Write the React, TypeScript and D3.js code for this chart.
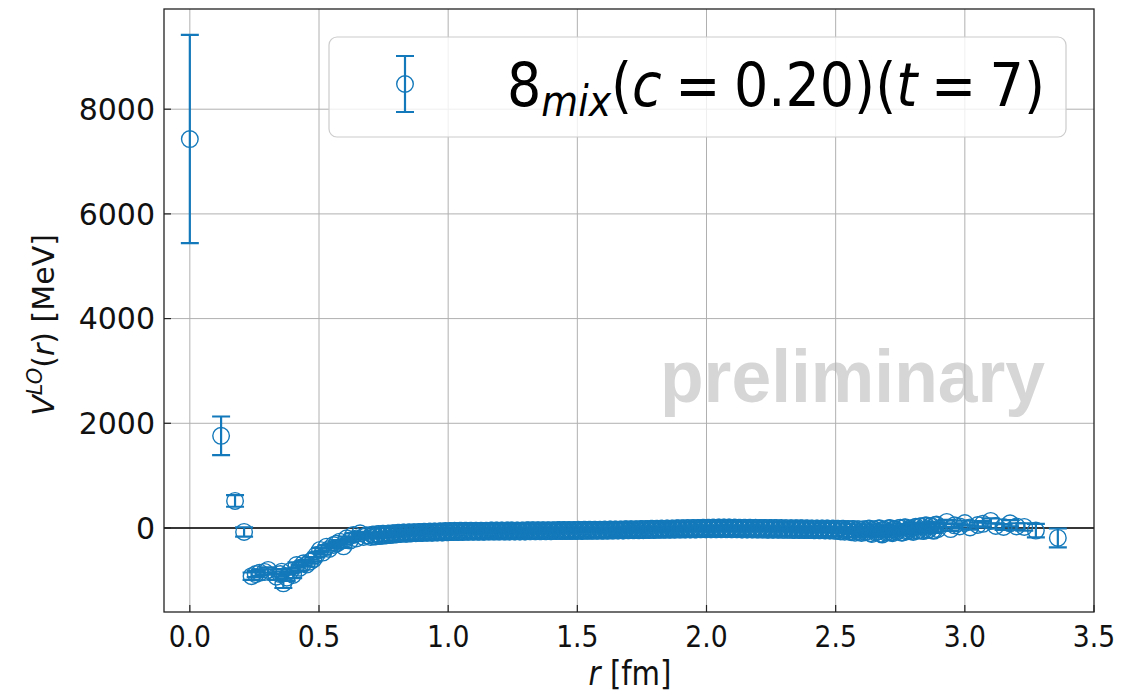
import React, { useEffect, useRef } from "react";
import * as d3 from "d3";

const W = 1123;
const H = 695;
const box = { left: 164, right: 1094, top: 9, bottom: 612 };
const blue = "#1479ba";

const xTicks = [0, 0.5, 1.0, 1.5, 2.0, 2.5, 3.0, 3.5];
const yTicks = [0, 2000, 4000, 6000, 8000];

// short distance points
const rNear = [0.000, 0.121, 0.175, 0.210, 0.239, 0.255, 0.271, 0.290, 0.303, 0.335, 0.350, 0.356, 0.362, 0.375,
  0.390, 0.400, 0.413, 0.425, 0.440, 0.452, 0.465, 0.478, 0.490, 0.504, 0.515, 0.529, 0.540, 0.556, 0.568,
  0.580, 0.595, 0.607, 0.620, 0.633, 0.645, 0.659, 0.672, 0.685];
const vNear = [7430, 1760, 516, -76, -920, -880, -853, -840, -802, -930, -880, -834, -1057, -950,
  -820, -898, -707, -760, -675, -700, -643, -600, -516, -420, -470, -357, -400, -325, -300,
  -262, -350, -197, -240, -134, -200, -101, -170, -140];
const eNear = [1990, 370, 110, 90, 70, 60, 60, 50, 50, 60, 50, 50, 90, 60,
  50, 60, 50, 50, 40, 40, 40, 40, 40, 40, 40, 30, 30, 30, 30,
  30, 30, 30, 30, 30, 25, 25, 25, 25];

// the dense band, first set
const rBand = [
  0.70, 0.71, 0.72, 0.73, 0.74, 0.75, 0.76, 0.77, 0.78, 0.79,
  0.80, 0.81, 0.82, 0.83, 0.84, 0.85, 0.86, 0.87, 0.88, 0.89,
  0.90, 0.91, 0.92, 0.93, 0.94, 0.95, 0.96, 0.97, 0.98, 0.99,
  1.00, 1.01, 1.02, 1.03, 1.04, 1.05, 1.06, 1.07, 1.08, 1.09,
  1.10, 1.11, 1.12, 1.13, 1.14, 1.15, 1.16, 1.17, 1.18, 1.19,
  1.20, 1.21, 1.22, 1.23, 1.24, 1.25, 1.26, 1.27, 1.28, 1.29,
  1.30, 1.31, 1.32, 1.33, 1.34, 1.35, 1.36, 1.37, 1.38, 1.39,
  1.40, 1.41, 1.42, 1.43, 1.44, 1.45, 1.46, 1.47, 1.48, 1.49,
  1.50, 1.51, 1.52, 1.53, 1.54, 1.55, 1.56, 1.57, 1.58, 1.59,
  1.60, 1.61, 1.62, 1.63, 1.64, 1.65, 1.66, 1.67, 1.68, 1.69,
  1.70, 1.71, 1.72, 1.73, 1.74, 1.75, 1.76, 1.77, 1.78, 1.79,
  1.80, 1.81, 1.82, 1.83, 1.84, 1.85, 1.86, 1.87, 1.88, 1.89,
  1.90, 1.91, 1.92, 1.93, 1.94, 1.95, 1.96, 1.97, 1.98, 1.99,
  2.00, 2.01, 2.02, 2.03, 2.04, 2.05, 2.06, 2.07, 2.08, 2.09,
  2.10, 2.11, 2.12, 2.13, 2.14, 2.15, 2.16, 2.17, 2.18, 2.19,
  2.20, 2.21, 2.22, 2.23, 2.24, 2.25, 2.26, 2.27, 2.28, 2.29,
  2.30, 2.31, 2.32, 2.33, 2.34, 2.35, 2.36, 2.37, 2.38, 2.39,
  2.40, 2.41, 2.42, 2.43, 2.44, 2.45, 2.46, 2.47, 2.48, 2.49,
  2.50, 2.51, 2.52, 2.53, 2.54, 2.55, 2.56, 2.57, 2.58, 2.59,
  2.60, 2.61, 2.62, 2.63, 2.64, 2.65, 2.66, 2.67, 2.68, 2.69,
  2.70, 2.71, 2.72, 2.73, 2.74, 2.75, 2.76, 2.77, 2.78, 2.79,
  2.80, 2.81, 2.82, 2.83, 2.84, 2.85, 2.86, 2.87, 2.88, 2.89,
];
const vBand = [
  -170, -125, -160, -115, -150, -110, -140, -105, -130, -100,
  -120, -90, -110, -85, -112, -82, -102, -80, -98, -76,
  -95, -72, -90, -68, -90, -66, -86, -64, -84, -60,
  -80, -58, -78, -56, -76, -55, -74, -54, -72, -53,
  -72, -52, -70, -52, -70, -51, -69, -50, -68, -50,
  -68, -49, -67, -48, -66, -48, -66, -47, -65, -46,
  -65, -45, -64, -44, -63, -44, -62, -43, -62, -42,
  -61, -41, -60, -40, -59, -40, -58, -39, -58, -38,
  -57, -37, -56, -36, -55, -35, -54, -34, -53, -33,
  -52, -32, -50, -30, -49, -29, -47, -27, -46, -26,
  -44, -24, -43, -22, -41, -21, -40, -19, -38, -17,
  -37, -15, -35, -13, -34, -11, -32, -9, -31, -7,
  -30, -5, -29, -3, -28, -1, -27, 1, -26, 3,
  -26, 5, -25, 6, -25, 7, -24, 8, -24, 8,
  -25, 7, -26, 6, -27, 5, -28, 4, -29, 3,
  -30, 2, -31, 1, -32, 0, -33, -1, -34, -2,
  -35, -3, -36, -4, -37, -5, -38, -6, -39, -7,
  -40, -8, -42, -9, -44, -10, -46, -11, -48, -12,
  -55, -14, -65, -16, -50, -18, -80, -20, -60, -22,
  -95, -25, -60, -10, -115, -30, -70, -5, -125, -35,
  -75, 0, -100, -25, -60, 5, -85, 15, -50, -15,
  -75, 25, -45, 35, -60, 50, -30, 40, -55, 65,
];
const eBand = [
  30, 28, 30, 26, 28, 25, 27, 24, 26, 24,
  24, 22, 24, 22, 23, 21, 22, 21, 22, 20,
  20, 20, 20, 19, 20, 19, 19, 18, 19, 18,
  18, 18, 18, 18, 18, 18, 18, 18, 18, 18,
  18, 18, 18, 18, 18, 18, 18, 18, 18, 18,
  18, 18, 18, 18, 18, 18, 18, 18, 18, 18,
  18, 18, 18, 18, 18, 18, 18, 18, 18, 18,
  18, 18, 18, 18, 18, 18, 18, 18, 18, 18,
  18, 18, 18, 18, 18, 18, 18, 18, 18, 18,
  18, 18, 18, 18, 18, 18, 18, 18, 18, 18,
  18, 18, 18, 18, 18, 18, 18, 18, 18, 18,
  18, 18, 18, 18, 18, 18, 18, 18, 18, 18,
  18, 18, 18, 18, 18, 18, 18, 18, 18, 18,
  18, 18, 18, 18, 18, 18, 18, 18, 18, 18,
  18, 18, 18, 18, 18, 18, 18, 18, 18, 18,
  20, 20, 20, 20, 20, 20, 20, 20, 20, 20,
  22, 22, 22, 22, 22, 22, 22, 22, 22, 22,
  24, 24, 24, 24, 24, 24, 24, 24, 24, 24,
  28, 26, 30, 26, 28, 26, 32, 26, 30, 28,
  35, 30, 32, 28, 38, 30, 34, 28, 40, 32,
  36, 30, 38, 32, 34, 30, 36, 32, 34, 32,
  38, 34, 36, 36, 38, 38, 36, 40, 40, 42,
];

// the dense band, second set (points in between)
const rBand2 = [
  0.705, 0.715, 0.725, 0.735, 0.745, 0.755, 0.765, 0.775, 0.785, 0.795,
  0.805, 0.815, 0.825, 0.835, 0.845, 0.855, 0.865, 0.875, 0.885, 0.895,
  0.905, 0.915, 0.925, 0.935, 0.945, 0.955, 0.965, 0.975, 0.985, 0.995,
  1.005, 1.015, 1.025, 1.035, 1.045, 1.055, 1.065, 1.075, 1.085, 1.095,
  1.105, 1.115, 1.125, 1.135, 1.145, 1.155, 1.165, 1.175, 1.185, 1.195,
  1.205, 1.215, 1.225, 1.235, 1.245, 1.255, 1.265, 1.275, 1.285, 1.295,
  1.305, 1.315, 1.325, 1.335, 1.345, 1.355, 1.365, 1.375, 1.385, 1.395,
  1.405, 1.415, 1.425, 1.435, 1.445, 1.455, 1.465, 1.475, 1.485, 1.495,
  1.505, 1.515, 1.525, 1.535, 1.545, 1.555, 1.565, 1.575, 1.585, 1.595,
  1.605, 1.615, 1.625, 1.635, 1.645, 1.655, 1.665, 1.675, 1.685, 1.695,
  1.705, 1.715, 1.725, 1.735, 1.745, 1.755, 1.765, 1.775, 1.785, 1.795,
  1.805, 1.815, 1.825, 1.835, 1.845, 1.855, 1.865, 1.875, 1.885, 1.895,
  1.905, 1.915, 1.925, 1.935, 1.945, 1.955, 1.965, 1.975, 1.985, 1.995,
  2.005, 2.015, 2.025, 2.035, 2.045, 2.055, 2.065, 2.075, 2.085, 2.095,
  2.105, 2.115, 2.125, 2.135, 2.145, 2.155, 2.165, 2.175, 2.185, 2.195,
  2.205, 2.215, 2.225, 2.235, 2.245, 2.255, 2.265, 2.275, 2.285, 2.295,
  2.305, 2.315, 2.325, 2.335, 2.345, 2.355, 2.365, 2.375, 2.385, 2.395,
  2.405, 2.415, 2.425, 2.435, 2.445, 2.455, 2.465, 2.475, 2.485, 2.495,
  2.505, 2.515, 2.525, 2.535, 2.545, 2.555, 2.565, 2.575, 2.585, 2.595,
  2.605, 2.615, 2.625, 2.635, 2.645, 2.655, 2.665, 2.675, 2.685, 2.695,
  2.705, 2.715, 2.725, 2.735, 2.745, 2.755, 2.765, 2.775, 2.785, 2.795,
  2.805, 2.815, 2.825, 2.835, 2.845, 2.855, 2.865, 2.875, 2.885, 2.895,
];
const vBand2 = [
  -128, -165, -118, -155, -112, -145, -108, -135, -102, -125,
  -92, -115, -88, -108, -84, -105, -82, -100, -78, -96,
  -74, -92, -70, -90, -67, -88, -65, -85, -62, -82,
  -57, -79, -55, -77, -55, -75, -54, -73, -53, -72,
  -52, -71, -51, -70, -51, -69, -50, -68, -49, -68,
  -48, -67, -48, -66, -47, -66, -47, -65, -46, -65,
  -45, -64, -44, -63, -43, -63, -42, -62, -42, -61,
  -41, -60, -40, -59, -39, -59, -38, -58, -38, -57,
  -36, -56, -35, -55, -34, -54, -33, -53, -33, -52,
  -31, -51, -29, -50, -28, -48, -27, -47, -25, -45,
  -23, -43, -22, -42, -20, -41, -18, -39, -16, -38,
  -14, -36, -12, -35, -10, -33, -8, -32, -6, -31,
  -4, -30, -2, -28, 0, -27, 2, -26, 4, -26,
  6, -25, 7, -25, 8, -24, 8, -24, 8, -25,
  6, -26, 5, -27, 4, -28, 3, -29, 2, -30,
  1, -31, 0, -32, -1, -33, -2, -34, -3, -35,
  -4, -36, -5, -37, -6, -38, -7, -39, -8, -40,
  -9, -41, -10, -43, -11, -45, -12, -47, -13, -50,
  -15, -58, -17, -70, -19, -65, -21, -90, -23, -75,
  -28, -80, -15, -100, -25, -85, -8, -110, -30, -90,
  -5, -85, -20, -70, 0, -90, 10, -65, -10, -60,
  10, -55, 30, -50, 45, -40, 35, -45, 55, -20,
];

// long distance tail
const rTail = [2.930, 2.945, 2.960, 2.980, 3.000, 3.020, 3.050, 3.070, 3.100, 3.120, 3.150, 3.175, 3.200, 3.230, 3.275, 3.360];
const vTail = [115, -20, 50, 30, 95, 10, 57, 80, 134, 40, 19, 90, 30, 20, -50, -190];
const eTail = [40, 35, 40, 40, 45, 40, 45, 50, 50, 50, 55, 60, 60, 70, 130, 180];

const rAll = [...rNear, ...rBand, ...rBand2, ...rTail];
const vAll = [...vNear, ...vBand, ...vBand2, ...vTail];
const eAll = [...eNear, ...eBand, ...eBand, ...eTail];

function drawChart(svgEl: SVGSVGElement) {
  const svg = d3.select(svgEl);
  svg.selectAll("*").remove();

  const x = d3.scaleLinear().domain([-0.1, 3.5]).range([box.left, box.right]);
  const y = d3.scaleLinear().domain([-1605, 9914]).range([box.bottom, box.top]);

  svg.append("rect").attr("width", W).attr("height", H).attr("fill", "#fff");

  // watermark (under the grid)
  svg.append("text")
    .attr("x", 660)
    .attr("y", 402)
    .attr("textLength", 385)
    .attr("lengthAdjust", "spacingAndGlyphs")
    .style("font-family", "'Liberation Sans', Arial, sans-serif")
    .style("font-weight", "bold")
    .style("font-size", "74px")
    .attr("fill", "#d6d6d6")
    .text("preliminary");

  // grid
  const grid = svg.append("g").attr("stroke", "#b0b0b0").attr("stroke-width", 1);
  grid.selectAll("line.gx").data(xTicks.filter(d => d < 3.5)).enter()
    .append("line")
    .attr("x1", d => x(d)).attr("x2", d => x(d))
    .attr("y1", box.top).attr("y2", box.bottom);
  grid.selectAll("line.gy").data(yTicks).enter()
    .append("line")
    .attr("x1", box.left).attr("x2", box.right)
    .attr("y1", d => y(d)).attr("y2", d => y(d));

  // zero line
  svg.append("line")
    .attr("x1", box.left).attr("x2", box.right)
    .attr("y1", y(0)).attr("y2", y(0))
    .attr("stroke", "#000").attr("stroke-width", 1.6);

  const pts = rAll.map((r, i) => ({ r, v: vAll[i], e: eAll[i] }));
  const g = svg.append("g");

  // error bars
  const eb = g.append("g").attr("stroke", blue).attr("stroke-width", 2.2).attr("fill", "none");
  eb.selectAll("path").data(pts).enter()
    .append("path")
    .attr("d", d => {
      const cx = x(d.r), y1 = y(d.v + d.e), y2 = y(d.v - d.e);
      return `M${cx},${y1}V${y2}M${cx - 9},${y1}H${cx + 9}M${cx - 9},${y2}H${cx + 9}`;
    });

  // markers
  g.append("g").selectAll("circle").data(pts).enter()
    .append("circle")
    .attr("cx", d => x(d.r))
    .attr("cy", d => y(d.v))
    .attr("r", 8.3)
    .attr("fill", "none")
    .attr("stroke", blue)
    .attr("stroke-width", 1.4);

  // frame
  svg.append("rect")
    .attr("x", box.left).attr("y", box.top)
    .attr("width", box.right - box.left).attr("height", box.bottom - box.top)
    .attr("fill", "none").attr("stroke", "#222").attr("stroke-width", 1.3);

  // ticks (inward)
  const ticks = svg.append("g").attr("stroke", "#222").attr("stroke-width", 1.2);
  xTicks.forEach(t => {
    ticks.append("line").attr("x1", x(t)).attr("x2", x(t)).attr("y1", box.bottom).attr("y2", box.bottom - 7);
  });
  yTicks.forEach(t => {
    ticks.append("line").attr("x1", box.left).attr("x2", box.left + 7).attr("y1", y(t)).attr("y2", y(t));
  });

  // tick labels (the x ones are narrow in the original)
  svg.append("g").selectAll("text").data(xTicks).enter()
    .append("text")
    .attr("transform", d => `translate(${x(d)},647) scale(0.86,1)`)
    .attr("text-anchor", "middle")
    .style("font-family", "'DejaVu Sans', sans-serif")
    .style("font-size", "31px")
    .attr("fill", "#111")
    .text(d => d3.format(".1f")(d));

  svg.append("g").selectAll("text").data(yTicks).enter()
    .append("text")
    .attr("x", 155)
    .attr("y", d => y(d))
    .attr("dy", "0.36em")
    .attr("text-anchor", "end")
    .style("font-family", "'DejaVu Sans', sans-serif")
    .style("font-size", "30px")
    .attr("fill", "#111")
    .text(d => String(d));

  // axis titles
  const xl = svg.append("text")
    .attr("transform", "translate(630,685) scale(0.86,1)")
    .attr("text-anchor", "middle")
    .style("font-family", "'DejaVu Sans', sans-serif")
    .style("font-size", "34px")
    .attr("fill", "#111");
  xl.append("tspan").style("font-style", "italic").text("r");
  xl.append("tspan").text(" [fm]");

  const yl = svg.append("text")
    .attr("transform", "translate(54,325) rotate(-90)")
    .attr("text-anchor", "middle")
    .style("font-family", "'DejaVu Sans', sans-serif")
    .style("font-size", "30px")
    .attr("fill", "#111");
  yl.append("tspan").style("font-style", "italic").text("V");
  yl.append("tspan").style("font-style", "italic").style("font-size", "21px").attr("dy", -12).text("LO");
  yl.append("tspan").attr("dy", 12).text("(");
  yl.append("tspan").style("font-style", "italic").text("r");
  yl.append("tspan").text(") [MeV]");

  // legend
  const lg = svg.append("g");
  lg.append("rect")
    .attr("x", 329).attr("y", 37).attr("width", 737).attr("height", 100).attr("rx", 8)
    .attr("fill", "#fff").attr("fill-opacity", 0.8)
    .attr("stroke", "#cccccc").attr("stroke-width", 1.2);
  lg.append("path")
    .attr("d", "M405,56V112M396,56H414M396,112H414")
    .attr("stroke", blue).attr("stroke-width", 2.2).attr("fill", "none");
  lg.append("circle")
    .attr("cx", 405).attr("cy", 84).attr("r", 8.3)
    .attr("fill", "none").attr("stroke", blue).attr("stroke-width", 1.4);
  const lt = lg.append("text")
    .attr("x", 507).attr("y", 106)
    .attr("textLength", 538)
    .attr("lengthAdjust", "spacingAndGlyphs")
    .style("font-family", "'DejaVu Sans', sans-serif")
    .style("font-size", "60px")
    .attr("fill", "#000");
  lt.append("tspan").text("8");
  lt.append("tspan").style("font-style", "italic").style("font-size", "42px").attr("dy", 10).text("mix");
  lt.append("tspan").attr("dy", -10).text("(");
  lt.append("tspan").style("font-style", "italic").text("c");
  lt.append("tspan").text("\u2005=\u20050.20)(");
  lt.append("tspan").style("font-style", "italic").text("t");
  lt.append("tspan").text("\u2005=\u20057)");
}

export default function App() {
  const ref = useRef<SVGSVGElement>(null);
  useEffect(() => {
    if (ref.current) drawChart(ref.current);
  }, []);
  return (
    <svg
      ref={ref}
      width={W}
      height={H}
      style={{ position: "absolute", left: 0, top: 0, display: "block" }}
    />
  );
}
